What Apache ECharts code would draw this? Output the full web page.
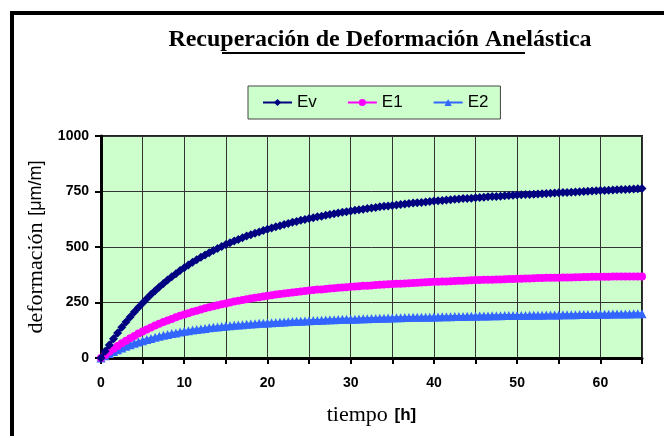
<!DOCTYPE html>
<html>
<head>
<meta charset="utf-8">
<script src="https://cdn.jsdelivr.net/npm/echarts@6/dist/echarts.min.js"></script>
<style>
html,body{margin:0;padding:0;background:#fff;}
#c{width:664px;height:436px;}
</style>
</head>
<body>
<div id="c"></div>
<script>
const chartTitle = 'Recuperación de Deformación Anelástica';
const seriesNames = ['Ev', 'E1', 'E2'];
const xTickLabels = [0, 10, 20, 30, 40, 50, 60];
const yTickLabels = [0, 250, 500, 750, 1000];

const hours = [0,0.5,1,1.5,2,2.5,3,3.5,4,4.5,5,5.5,6,6.5,7,7.5,8,8.5,9,9.5,
10,10.5,11,11.5,12,12.5,13,13.5,14,14.5,15,15.5,16,16.5,17,17.5,18,18.5,19,19.5,
20,20.5,21,21.5,22,22.5,23,23.5,24,24.5,25,25.5,26,26.5,27,27.5,28,28.5,29,29.5,
30,30.5,31,31.5,32,32.5,33,33.5,34,34.5,35,35.5,36,36.5,37,37.5,38,38.5,39,39.5,
40,40.5,41,41.5,42,42.5,43,43.5,44,44.5,45,45.5,46,46.5,47,47.5,48,48.5,49,49.5,
50,50.5,51,51.5,52,52.5,53,53.5,54,54.5,55,55.5,56,56.5,57,57.5,58,58.5,59,59.5,
60,60.5,61,61.5,62,62.5,63,63.5,64,64.5,65];

const ev = [0,30,59,87,113,138,162,185,207,228,
248,267,286,303,320,336,351,366,380,394,
407,419,431,443,454,464,474,484,493,502,
511,519,527,534,542,549,555,562,568,574,
580,586,591,596,601,606,611,615,620,624,
628,632,636,639,643,646,650,653,656,659,
662,665,668,670,673,676,678,681,683,685,
687,689,692,694,696,698,699,701,703,705,
707,708,710,712,713,715,716,718,719,720,
722,723,724,726,727,728,729,731,732,733,
734,735,736,737,738,739,740,741,742,743,
744,745,746,747,748,749,750,751,752,753,
754,755,756,757,758,759,759,760,761,762,
763];

const e1 = [0,14,28,42,54,66,78,89,99,110,
119,128,137,146,154,162,169,176,183,190,
196,202,208,213,219,224,229,233,238,242,
246,250,254,258,261,265,268,271,274,277,
280,283,286,288,291,293,295,297,300,302,
304,306,308,309,311,313,314,316,318,319,
321,322,323,325,326,327,329,330,331,332,
333,334,335,336,337,338,339,340,341,342,
343,344,345,345,346,347,348,348,349,350,
351,351,352,353,353,354,354,355,356,356,
357,357,358,358,359,360,360,361,361,362,
362,363,363,363,364,364,365,365,366,366,
366,366,366,367,367,367,367,367,367,367,
367];

const e2 = [0,10,20,29,37,45,53,60,66,72,
78,83,88,93,98,102,106,110,113,117,
120,123,126,128,131,133,136,138,140,142,
144,145,147,149,150,152,153,154,156,157,
158,159,160,161,162,163,164,165,166,167,
168,169,169,170,171,172,172,173,174,174,
175,175,176,177,177,178,178,179,179,180,
180,181,181,182,182,183,183,184,184,184,
185,185,186,186,186,187,187,187,188,188,
188,189,189,189,190,190,190,191,191,191,
192,192,192,193,193,193,193,194,194,194,
194,195,195,195,195,196,196,196,196,197,
197,197,197,198,198,198,198,198,199,199,
199];

const chart = echarts.init(document.getElementById('c'), null, {renderer: 'canvas'});

function pairs(vals) { return hours.map((t, i) => [t, vals[i]]); }

const labelFont = {color: '#000', fontFamily: '"Liberation Sans", Arial, sans-serif', fontWeight: 'bold', fontSize: 14};

const option = {
  backgroundColor: '#fff',
  animation: false,
  graphic: [
    {type: 'rect', shape: {x: 12, y: 13, width: 720, height: 500},
     style: {fill: 'none', stroke: '#000', lineWidth: 4}, silent: true},
    {type: 'text', x: 380, y: 40,
     style: {text: chartTitle, font: 'bold 24px "Liberation Serif", "Times New Roman", serif',
             fill: '#000', textAlign: 'center', textVerticalAlign: 'middle'}},
    {type: 'line', shape: {x1: 222, y1: 53, x2: 525, y2: 53},
     style: {stroke: '#000', lineWidth: 2}}
  ],
  legend: {
    data: seriesNames,
    left: 248, top: 86,
    orient: 'horizontal',
    backgroundColor: '#ccffcc',
    borderColor: '#444', borderWidth: 1,
    padding: [8, 12, 8, 14],
    itemGap: 30,
    itemWidth: 29, itemHeight: 9,
    textStyle: {color: '#000', fontFamily: '"Liberation Sans", Arial, sans-serif', fontSize: 17}
  },
  grid: {
    left: 101, top: 136, right: 22, bottom: 78,
    show: true, backgroundColor: '#ccffcc', borderColor: '#222', borderWidth: 2
  },
  xAxis: {
    type: 'value', min: 0, max: 65, interval: 5,
    name: '{a|tiempo}  {b|[h]}', nameLocation: 'middle', nameGap: 46,
    nameTextStyle: {
      rich: {
        a: {fontFamily: '"Liberation Serif", "Times New Roman", serif', fontSize: 22, color: '#000'},
        b: {fontFamily: '"Liberation Sans", Arial, sans-serif', fontSize: 17, fontWeight: 'bold', color: '#000'}
      }
    },
    axisLine: {show: true, onZero: false, lineStyle: {color: '#000', width: 3}},
    axisTick: {show: true, length: 6, lineStyle: {color: '#000', width: 2}},
    axisLabel: Object.assign({margin: 18, formatter: v => xTickLabels.includes(v) ? String(v) : ''}, labelFont),
    splitLine: {show: true, lineStyle: {color: '#333', width: 1}}
  },
  yAxis: {
    type: 'value', min: 0, max: 1000, interval: 250,
    name: '{a|deformación}  {b|[μm/m]}', nameLocation: 'middle', nameGap: 54, nameRotate: 90,
    nameTextStyle: {
      rich: {
        a: {fontFamily: '"Liberation Serif", "Times New Roman", serif', fontSize: 22, color: '#000'},
        b: {fontFamily: '"Liberation Sans", Arial, sans-serif', fontSize: 18, color: '#000'}
      }
    },
    axisLine: {show: true, lineStyle: {color: '#000', width: 3}},
    axisTick: {show: true, length: 6, lineStyle: {color: '#000', width: 2}},
    axisLabel: Object.assign({margin: 12, formatter: v => yTickLabels.includes(v) ? String(v) : ''}, labelFont),
    splitLine: {show: true, lineStyle: {color: '#333', width: 1}}
  },
  series: [
    {name: seriesNames[0], type: 'line', data: pairs(ev), symbol: 'diamond', symbolSize: 9,
     itemStyle: {color: '#000080'}, lineStyle: {color: '#000080', width: 3}, z: 4},
    {name: seriesNames[1], type: 'line', data: pairs(e1), symbol: 'circle', symbolSize: 8,
     itemStyle: {color: '#ff00ff'}, lineStyle: {color: '#ff00ff', width: 3}, z: 3},
    {name: seriesNames[2], type: 'line', data: pairs(e2), symbol: 'triangle', symbolSize: 9,
     itemStyle: {color: '#3366ff'}, lineStyle: {color: '#3366ff', width: 3}, z: 2}
  ]
};
chart.setOption(option);
</script>
</body>
</html>
